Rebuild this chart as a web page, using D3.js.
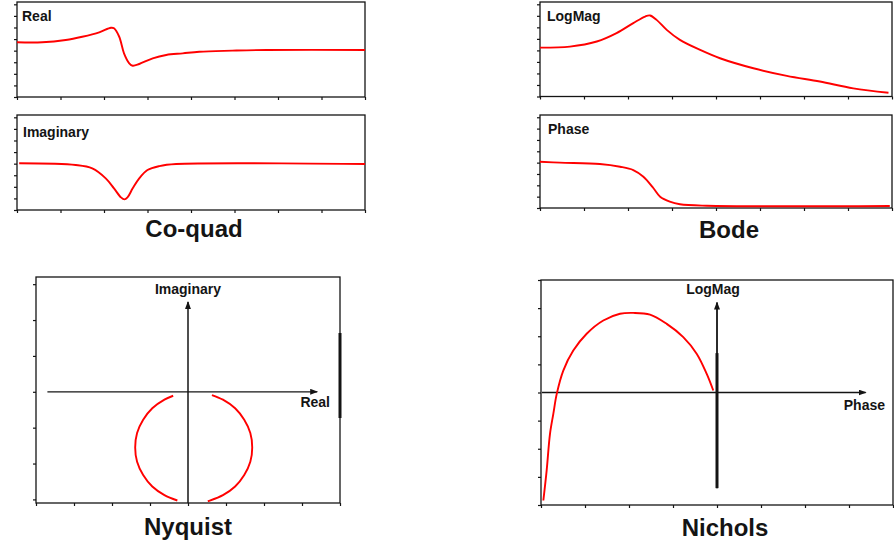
<!DOCTYPE html>
<html>
<head>
<meta charset="utf-8">
<script src="https://cdn.jsdelivr.net/npm/d3@7"></script>
<style>
  body { margin: 0; background: #fff; }
  svg { display: block; font-family: "Liberation Sans", Arial, sans-serif; }
</style>
</head>
<body>
<div id="chart"></div>
<script>
// Co-quad (values in tick units)
const realX = [0, 0.58, 1.12, 1.5, 1.89, 2.16, 2.23, 2.35, 2.46, 2.58, 2.66, 2.81, 3.12, 3.43, 3.81, 4.19, 4.95, 5.73, 8];
const realY = [4.72, 4.72, 4.92, 5.2, 5.58, 5.98, 5.93, 5.2, 3.77, 2.91, 2.7, 2.85, 3.34, 3.63, 3.77, 3.91, 4.0, 4.06, 4.06];
const imagX = [0.05, 1.35, 1.73, 2.04, 2.23, 2.39, 2.47, 2.54, 2.66, 2.81, 3.0, 3.27, 3.66, 8];
const imagY = [4.03, 3.88, 3.59, 2.73, 1.87, 1.09, 0.92, 1.09, 1.87, 2.73, 3.45, 3.79, 3.97, 3.97];

// Bode
const magX = [0, 0.68, 1.29, 1.74, 2.12, 2.39, 2.5, 2.65, 2.88, 3.18, 3.64, 4.09, 4.85, 5.61, 6.36, 7.12, 7.92];
const magY = [4.24, 4.33, 4.77, 5.5, 6.37, 6.94, 7.03, 6.65, 5.78, 4.91, 4.04, 3.32, 2.45, 1.79, 1.3, 0.71, 0.33];
const phaseX = [0, 0.45, 1.36, 1.82, 2.12, 2.35, 2.58, 2.73, 2.95, 3.18, 3.79, 7.95];
const phaseY = [4.08, 4.0, 3.88, 3.64, 3.35, 2.76, 1.74, 1.0, 0.56, 0.33, 0.2, 0.18];

// Nyquist: two arcs (real, imaginary), gaps near the origin
const nyqRightRe = [0.63, 0.92, 1.24, 1.48, 1.64, 1.69, 1.64, 1.48, 1.24, 0.92, 0.55, 0.52];
const nyqRightIm = [-0.09, -0.22, -0.46, -0.78, -1.15, -1.55, -1.95, -2.32, -2.64, -2.88, -3.04, -3.05];
const nyqLeftRe = [-0.28, -0.62, -0.94, -1.18, -1.34, -1.39, -1.34, -1.18, -0.94, -0.62, -0.39];
const nyqLeftIm = [-3.03, -2.88, -2.64, -2.32, -1.95, -1.55, -1.15, -0.78, -0.46, -0.22, -0.11];

// Nichols: phase (deg) vs log magnitude (dB)
const nicPhase = [-177.6, -174.2, -170.8, -167.4, -163.9, -157.2, -147.0, -133.3, -116.3, -99.2, -85.6, -68.5, -51.4, -34.5, -20.8, -10.5, -3.8];
const nicMag = [-38.4, -27.7, -14.7, -7.6, -0.5, 7.8, 14.9, 20.9, 25.6, 28.0, 28.3, 27.7, 24.4, 19.7, 13.8, 6.6, 0.7];

const titles = ["Co-quad", "Bode", "Nyquist", "Nichols"];

const width = 894, height = 549;
const ink = "#141414";

const svg = d3.select("#chart").append("svg")
  .attr("width", width)
  .attr("height", height);

svg.append("defs").append("marker")
  .attr("id", "arrow")
  .attr("viewBox", "0 0 8 6")
  .attr("refX", 7).attr("refY", 3)
  .attr("markerWidth", 8).attr("markerHeight", 6)
  .attr("markerUnits", "userSpaceOnUse")
  .attr("orient", "auto")
  .append("path")
    .attr("d", "M0,0L8,3L0,6Z")
    .attr("fill", ink);

const zip = (xs, ys) => xs.map((v, i) => [v, ys[i]]);

function frame(box, xDomain, yDomain, xTicks, yTicks) {
  const x = d3.scaleLinear().domain(xDomain).range([box.x0, box.x1]);
  const y = d3.scaleLinear().domain(yDomain).range([box.y1, box.y0]);

  svg.append("rect")
    .attr("x", box.x0).attr("y", box.y0)
    .attr("width", box.x1 - box.x0).attr("height", box.y1 - box.y0)
    .attr("fill", "none").attr("stroke", ink).attr("stroke-width", 1.3);

  const g1 = svg.append("g")
    .attr("transform", `translate(${box.x0},0)`)
    .call(d3.axisLeft(y).tickValues(yTicks).tickSize(3).tickSizeOuter(0).tickFormat(""));
  const g2 = svg.append("g")
    .attr("transform", `translate(0,${box.y1})`)
    .call(d3.axisBottom(x).tickValues(xTicks).tickSize(3).tickSizeOuter(0).tickFormat(""));
  [g1, g2].forEach(g => {
    g.select(".domain").remove();
    g.selectAll("line").attr("stroke", ink).attr("stroke-width", 1.2);
  });

  return { x, y };
}

function curve(s, pts) {
  svg.append("path")
    .datum(pts)
    .attr("fill", "none")
    .attr("stroke", "#ff0000")
    .attr("stroke-width", 1.9)
    .attr("d", d3.line()
      .x(d => s.x(d[0]))
      .y(d => s.y(d[1]))
      .curve(d3.curveCatmullRom.alpha(0.5)));
}

function label(x, y, txt, size, anchor) {
  svg.append("text")
    .attr("x", x).attr("y", y)
    .attr("text-anchor", anchor || "start")
    .attr("font-size", size)
    .attr("font-weight", "bold")
    .attr("fill", ink)
    .text(txt);
}

function axisLine(x1, y1, x2, y2, w, arrow) {
  const l = svg.append("line")
    .attr("x1", x1).attr("y1", y1).attr("x2", x2).attr("y2", y2)
    .attr("stroke", ink).attr("stroke-width", w);
  if (arrow) l.attr("marker-end", "url(#arrow)");
}

const unitTicks = d3.range(0, 9);

// Co-quad panels
const sReal = frame({ x0: 17, x1: 365, y0: 2, y1: 97 }, [0, 8], [0, 8.2], unitTicks, unitTicks);
curve(sReal, zip(realX, realY));
label(22, 21, "Real", 14);

const sImag = frame({ x0: 17, x1: 365, y0: 115, y1: 210 }, [0, 8], [0, 8.2], unitTicks, unitTicks);
curve(sImag, zip(imagX, imagY));
label(23, 137, "Imaginary", 14);

// Bode panels
const sMag = frame({ x0: 540, x1: 892, y0: 2, y1: 96.5 }, [0, 8], [0, 8.2], unitTicks, unitTicks);
curve(sMag, zip(magX, magY));
label(547, 21, "LogMag", 14);

const sPhase = frame({ x0: 540, x1: 892, y0: 115, y1: 208 }, [0, 8], [0, 8.2], unitTicks, unitTicks);
curve(sPhase, zip(phaseX, phaseY));
label(548, 134, "Phase", 14);

// Nyquist
const sNyq = frame({ x0: 36, x1: 340, y0: 277, y1: 503 }, [-4, 4], [-3.1, 3.2],
  d3.range(-4, 5), d3.range(-3, 4));
axisLine(sNyq.x(-3.7), sNyq.y(0), sNyq.x(3.4), sNyq.y(0), 1.3, true);
axisLine(sNyq.x(0), sNyq.y(-3.1), sNyq.x(0), sNyq.y(2.5), 1.5, true);
axisLine(340, 333, 340, 418, 3, false);
curve(sNyq, zip(nyqRightRe, nyqRightIm));
curve(sNyq, zip(nyqLeftRe, nyqLeftIm));
label(sNyq.x(0), 294, "Imaginary", 14, "middle");
label(330, 407, "Real", 14, "end");

// Nichols
const sNic = frame({ x0: 541, x1: 893, y0: 280, y1: 505 }, [-180, 180], [-40, 40],
  d3.range(-180, 181, 45), d3.range(-40, 41, 10));
axisLine(sNic.x(-179), sNic.y(0), sNic.x(152), sNic.y(0), 1.3, true);
axisLine(sNic.x(0), sNic.y(-34), sNic.x(0), sNic.y(32), 1.8, true);
axisLine(sNic.x(0), sNic.y(-34), sNic.x(0), sNic.y(14), 3, false);
curve(sNic, zip(nicPhase, nicMag));
label(sNic.x(0) - 4, 294, "LogMag", 14, "middle");
label(885, 410, "Phase", 14, "end");

// titles
label(194, 237, titles[0], 24, "middle");
label(729, 238, titles[1], 24, "middle");
label(188, 535, titles[2], 24, "middle");
label(725, 536, titles[3], 24, "middle");
</script>
</body>
</html>
